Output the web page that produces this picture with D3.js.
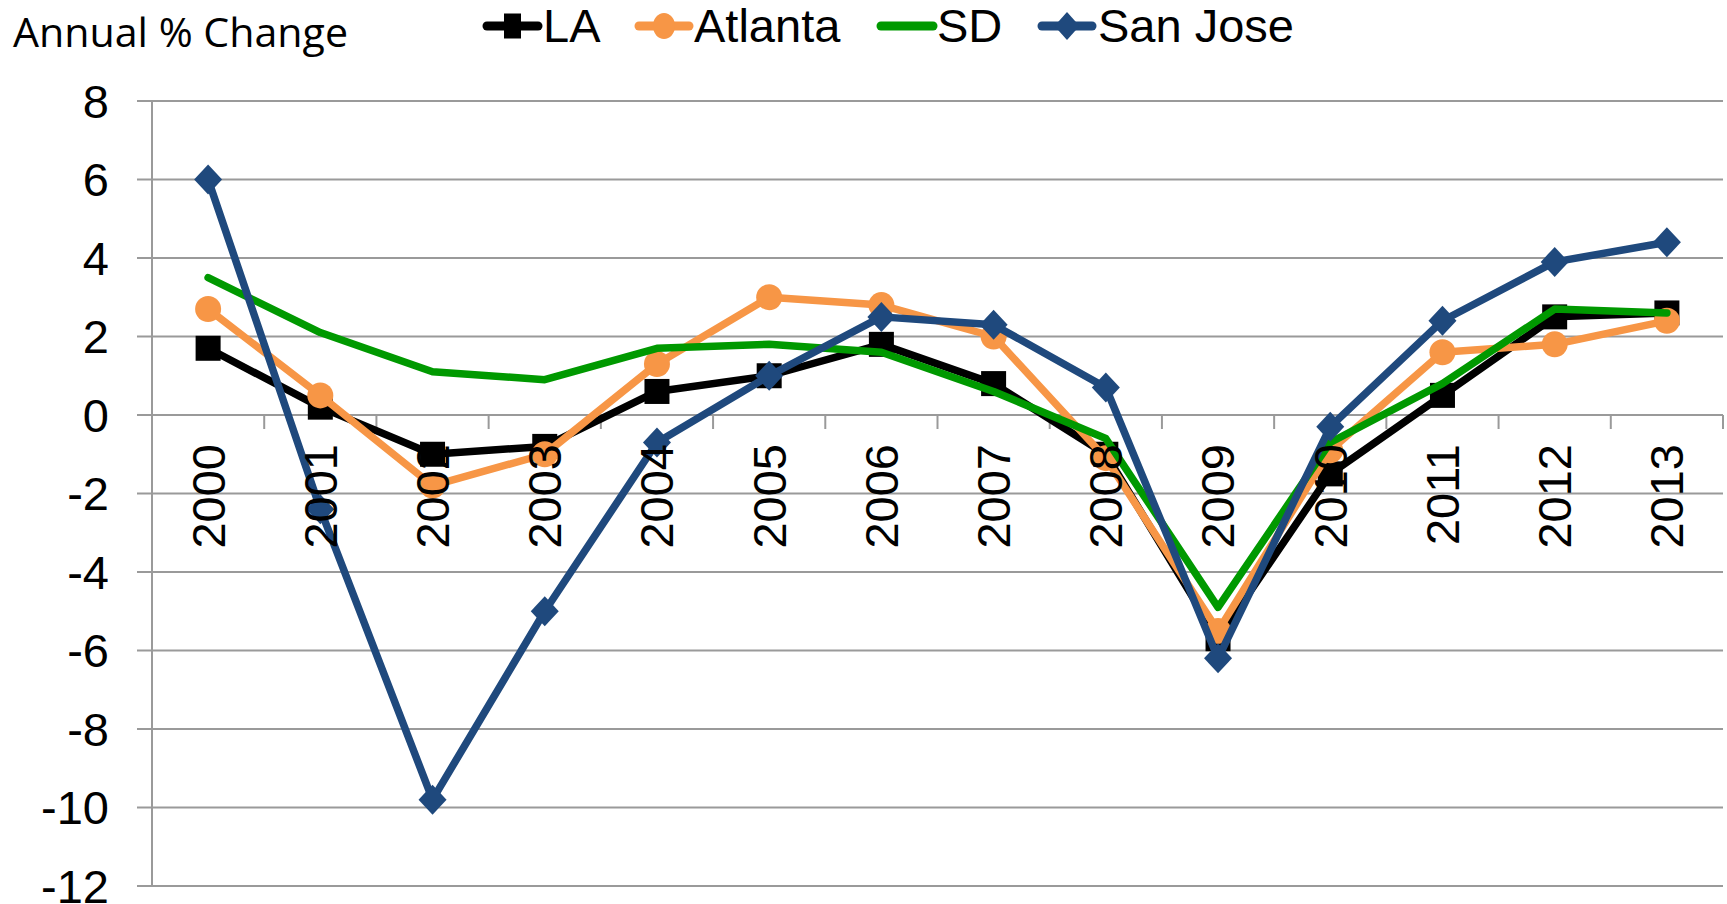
<!DOCTYPE html>
<html>
<head>
<meta charset="utf-8">
<script src="https://cdn.jsdelivr.net/npm/d3@7"></script>
<style>
  html, body { margin: 0; padding: 0; background: #fff; }
  svg { display: block; }
</style>
</head>
<body>
<svg id="chart" width="1727" height="904"></svg>
<script>
const years = ["2000","2001","2002","2003","2004","2005","2006","2007","2008","2009","2010","2011","2012","2013"];
const yTicks = [8, 6, 4, 2, 0, -2, -4, -6, -8, -10, -12];
const LA      = [1.7, 0.2, -1.0, -0.8, 0.6, 1.0, 1.8, 0.8, -1.0, -5.7, -1.5, 0.5, 2.5, 2.6];
const Atlanta = [2.7, 0.5, -1.8, -1.0, 1.3, 3.0, 2.8, 2.0, -1.1, -5.5, -0.9, 1.6, 1.8, 2.4];
const SD      = [3.5, 2.1, 1.1, 0.9, 1.7, 1.8, 1.6, 0.6, -0.6, -4.9, -0.7, 0.8, 2.7, 2.6];
const SanJose = [6.0, -2.4, -9.8, -5.0, -0.7, 1.0, 2.5, 2.3, 0.7, -6.2, -0.3, 2.4, 3.9, 4.4];
const seriesNames = ["LA", "Atlanta", "SD", "San Jose"];

(function () {
const series = [
  {name: seriesNames[0], values: LA,      color: "#000000", marker: "square"},
  {name: seriesNames[1], values: Atlanta, color: "#F79646", marker: "circle"},
  {name: seriesNames[2], values: SD,      color: "#009900", marker: "none"},
  {name: seriesNames[3], values: SanJose, color: "#1F497D", marker: "diamond"}
];

const svg = d3.select("#chart");
const pLeft = 152, pRight = 1723, pTop = 101, pBottom = 886;
const gridColor = "#9a9a9a";
const font = "'Liberation Sans', Arial, sans-serif";

const x = d3.scaleBand().domain(years).range([pLeft, pRight]).paddingInner(0).paddingOuter(0);
const y = d3.scaleLinear().domain([-12, 8]).range([pBottom, pTop]);

// Gridlines + y axis
const gGrid = svg.append("g");
gGrid.selectAll("line.grid").data(yTicks).enter().append("line")
  .attr("x1", pLeft - 15).attr("x2", pRight)
  .attr("y1", d => y(d)).attr("y2", d => y(d))
  .attr("stroke", gridColor).attr("stroke-width", 2);
gGrid.append("line").attr("x1", pLeft).attr("x2", pLeft).attr("y1", pTop).attr("y2", pBottom)
  .attr("stroke", gridColor).attr("stroke-width", 2);

const yAxis = d3.axisLeft(y).tickValues(yTicks).tickSize(0).tickFormat(d => d);
const gy = svg.append("g").attr("transform", `translate(${pLeft},0)`).call(yAxis);
gy.select(".domain").remove();
gy.selectAll("text")
  .attr("x", -(pLeft - 109))
  .attr("dy", "0.35em")
  .attr("font-family", font)
  .attr("font-size", 47)
  .attr("fill", "#000")
  .attr("text-anchor", "end");

// Category tick marks on zero line
const boundaries = years.map(d => x(d) + x.bandwidth());
svg.append("g").selectAll("line").data(boundaries).enter().append("line")
  .attr("x1", d => d).attr("x2", d => d)
  .attr("y1", y(0)).attr("y2", y(0) + 14)
  .attr("stroke", gridColor).attr("stroke-width", 2);

// Lines
const gLines = svg.append("g");
series.forEach(s => {
  const line = d3.line()
    .x((d, i) => x(years[i]) + x.bandwidth() / 2)
    .y(d => y(d));
  const g = gLines.append("g");
  g.append("path").datum(s.values)
    .attr("d", line)
    .attr("fill", "none")
    .attr("stroke", s.color)
    .attr("stroke-width", 7.5)
    .attr("stroke-linejoin", "round")
    .attr("stroke-linecap", "round");
  const pts = s.values.map((v, i) => [x(years[i]) + x.bandwidth() / 2, y(v)]);
  if (s.marker === "square") {
    g.selectAll("rect").data(pts).enter().append("rect")
      .attr("x", d => d[0] - 12.5).attr("y", d => d[1] - 12.5)
      .attr("width", 25).attr("height", 25).attr("fill", s.color);
  } else if (s.marker === "circle") {
    g.selectAll("circle").data(pts).enter().append("circle")
      .attr("cx", d => d[0]).attr("cy", d => d[1]).attr("r", 13).attr("fill", s.color);
  } else if (s.marker === "diamond") {
    g.selectAll("path.m").data(pts).enter().append("path")
      .attr("d", d => `M${d[0]},${d[1]-15}L${d[0]+14},${d[1]}L${d[0]},${d[1]+15}L${d[0]-14},${d[1]}Z`)
      .attr("fill", s.color);
  }
});

// Category labels (on top)
svg.append("g").selectAll("text").data(years).enter().append("text")
  .attr("transform", d => `translate(${x(d) + x.bandwidth() / 2},444) rotate(-90)`)
  .attr("text-anchor", "end")
  .attr("dy", "0.35em")
  .attr("font-family", font)
  .attr("font-size", 47)
  .attr("fill", "#000")
  .text(d => d);

// Title
svg.append("text")
  .attr("x", 13).attr("y", 46.5)
  .attr("font-family", "'Open Sans', 'Noto Sans', sans-serif")
  .attr("font-size", 40)
  .attr("textLength", 335)
  .attr("lengthAdjust", "spacingAndGlyphs")
  .attr("fill", "#000")
  .text("Annual % Change");

// Legend
const legendItems = [
  {s: series[0], x1: 483, x2: 542, tx: 543},
  {s: series[1], x1: 635, x2: 693, tx: 694},
  {s: series[2], x1: 877, x2: 937, tx: 937},
  {s: series[3], x1: 1038, x2: 1096, tx: 1098}
];
const ly = 26;
const gl = svg.append("g");
legendItems.forEach(it => {
  const s = it.s;
  gl.append("line").attr("x1", it.x1 + 4).attr("x2", it.x2 - 4).attr("y1", ly).attr("y2", ly)
    .attr("stroke", s.color).attr("stroke-width", 9).attr("stroke-linecap", "round");
  const cx = (it.x1 + it.x2) / 2;
  if (s.marker === "square") {
    gl.append("rect").attr("x", cx - 8.5).attr("y", ly - 12.5).attr("width", 17).attr("height", 25).attr("fill", s.color);
  } else if (s.marker === "circle") {
    gl.append("ellipse").attr("cx", cx).attr("cy", ly).attr("rx", 11).attr("ry", 13).attr("fill", s.color);
  } else if (s.marker === "diamond") {
    gl.append("path").attr("d", `M${cx},${ly-14}L${cx+12.5},${ly}L${cx},${ly+14}L${cx-12.5},${ly}Z`).attr("fill", s.color);
  }
  gl.append("text").attr("x", it.tx).attr("y", 42)
    .attr("font-family", font).attr("font-size", 47).attr("fill", "#000")
    .text(s.name);
});
})();
</script>
</body>
</html>
